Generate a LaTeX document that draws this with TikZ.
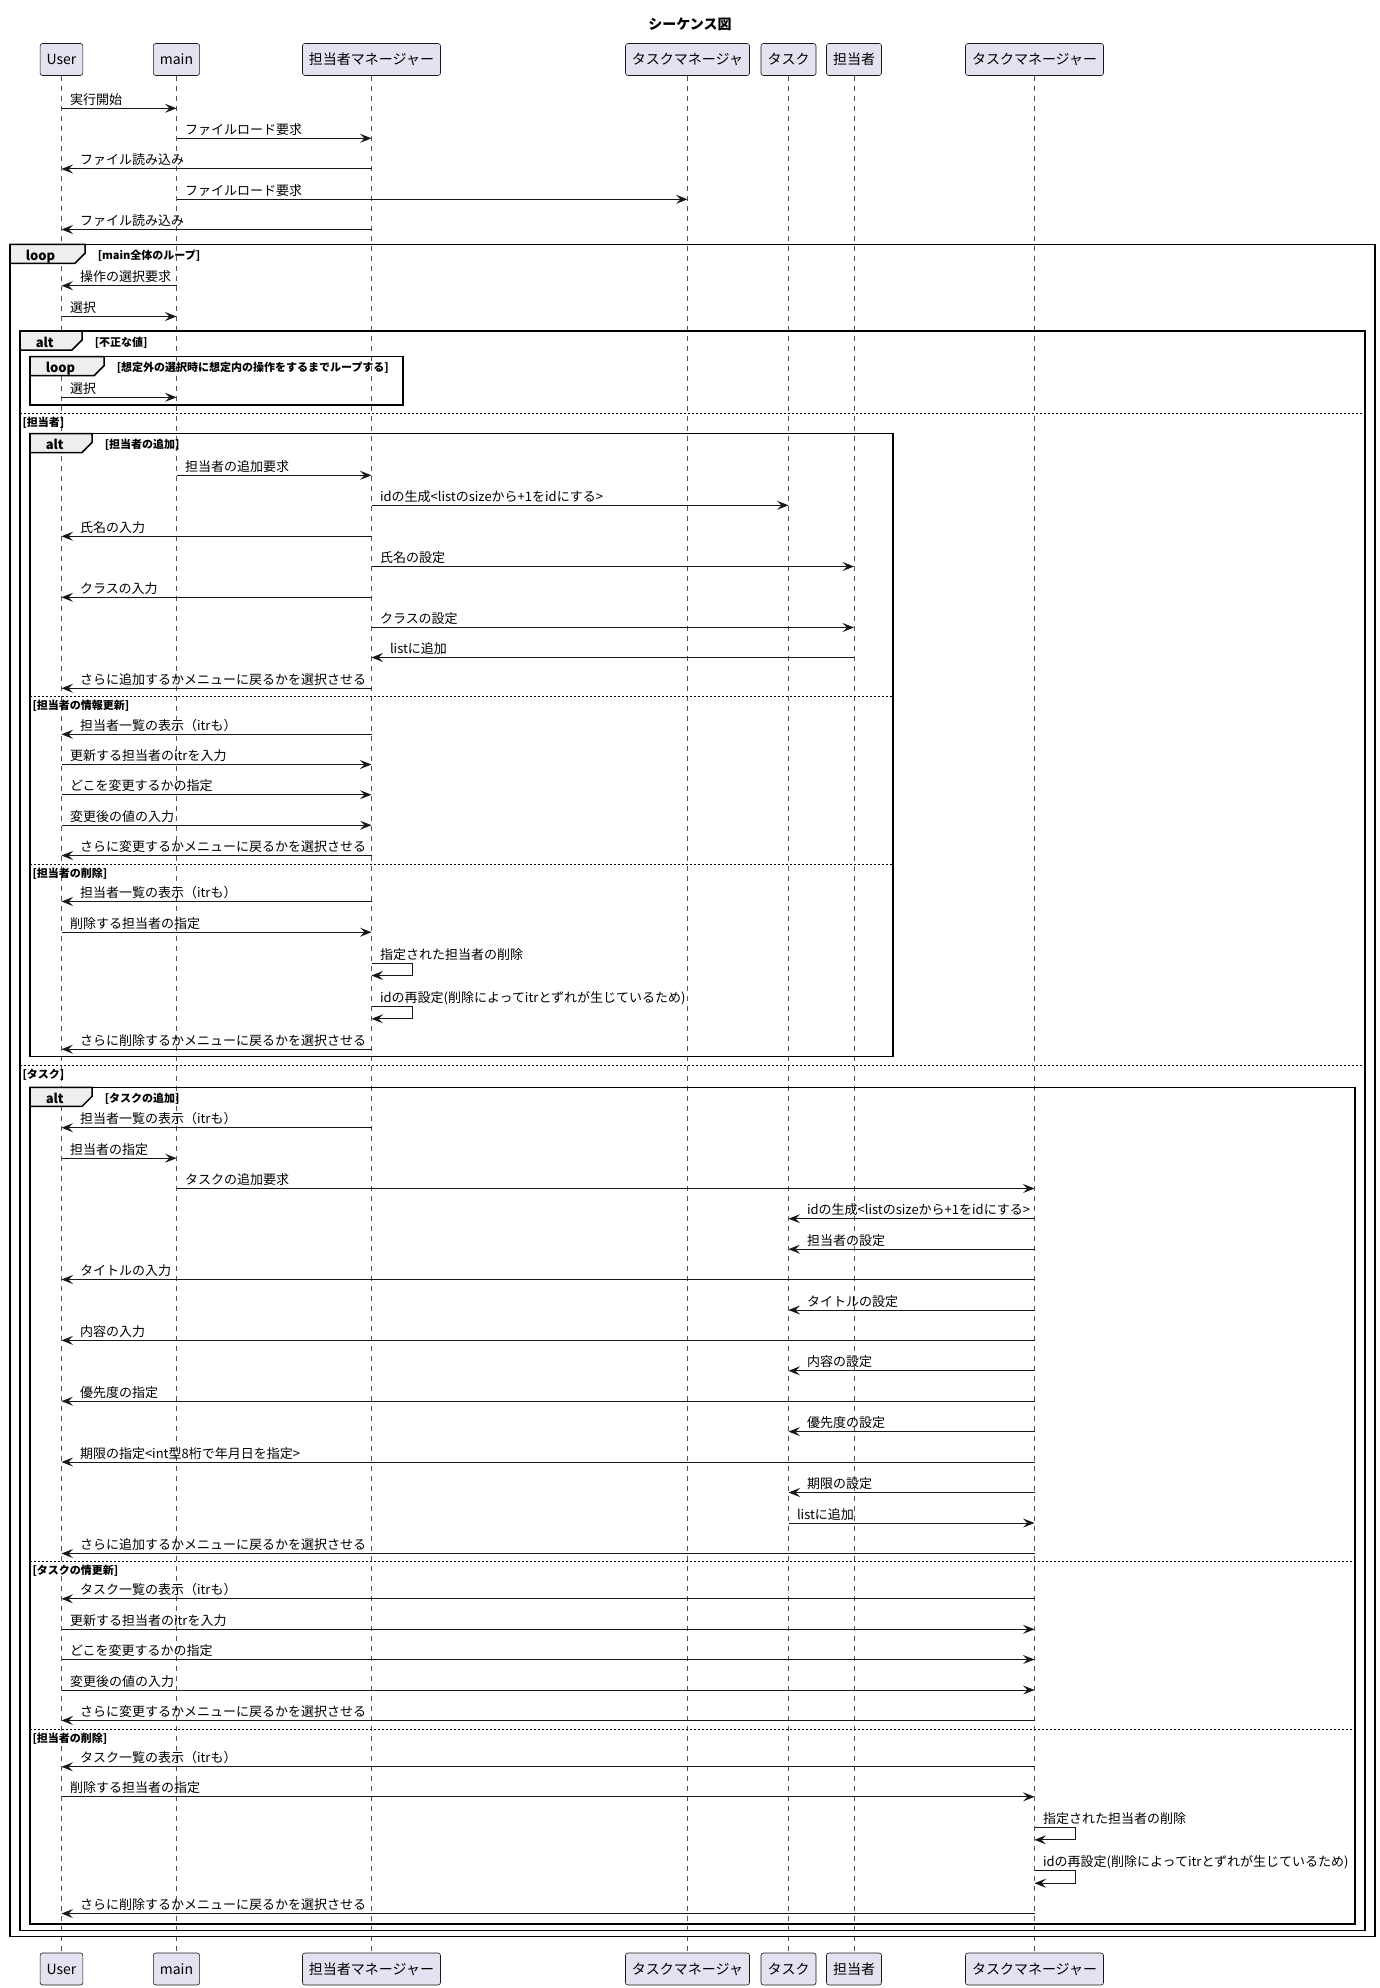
\documentclass[tikz,border=0pt]{standalone}
\usepackage{fontspec}
\setmainfont{Noto Sans CJK JP}
\usepackage{tikz}
\usetikzlibrary{calc,arrows.meta}
\definecolor{linec}{HTML}{181818}
\definecolor{partfill}{HTML}{E2E2F0}
\definecolor{tabfill}{HTML}{EEEEEE}
\tikzset{
	part/.style={draw=linec, fill=partfill, rounded corners=2.5pt, line width=0.6pt, minimum height=32pt, inner xsep=6.5pt, font=\fontsize{14}{16}\selectfont},
	life/.style={draw=linec!75, line width=0.5pt, dash pattern=on 5pt off 5pt},
	msg/.style={draw=linec, line width=1pt, -{Stealth[length=11.5pt,width=9pt,inset=4.5pt]}},
	msgtxt/.style={anchor=base west, inner sep=0pt, text=black, font=\fontsize{13}{15}\selectfont},
	grpbox/.style={draw=black, line width=1.5pt},
	grptab/.style={draw=black, fill=tabfill, line width=1.5pt},
	kindtxt/.style={anchor=base west, inner sep=0pt, font=\bfseries\fontsize{13}{15}\selectfont},
	guardtxt/.style={anchor=base west, inner sep=0pt, font=\bfseries\fontsize{11}{13}\selectfont},
	sepline/.style={draw=black, line width=1pt, dash pattern=on 2pt off 2pt}
}
\def\msgr(#1,#2,#3)#4{\draw[msg] (#1 |- 0,#3) node[msgtxt, xshift=8pt, yshift=4pt] {#4} -- (#2 |- 0,#3);}
\def\msgl(#1,#2,#3)#4{\draw[msg] (#1 |- 0,#3) -- (#2 |- 0,#3) node[msgtxt, xshift=18pt, yshift=4pt] {#4};}
\def\msgself(#1,#2)#3{\draw[msg] (#1 |- 0,#2) node[msgtxt, xshift=8pt, yshift=4pt] {#3} -- ++(41,0) -- ++(0,12.5) -- ++(-41,0);}
\def\grp(#1,#2,#3,#4)#5#6#7{%
	\draw[grpbox] (#1,#2) rectangle (#3,#4);
	\draw[grptab] (#1,#2) node[kindtxt, xshift=15pt, yshift=-16pt] {#5} -- ++(#6,0) node[guardtxt, xshift=12pt, yshift=-15pt] {#7} -- ++(0,9) -- ++(-10,10) -- ++(10-#6,0) -- cycle;}
\def\grpsep(#1,#2,#3)#4{\draw[sepline] (#1,#3) -- (#2,#3) node[pos=0, guardtxt, xshift=2pt, yshift=-13pt] {#4};}

\begin{document}
\begin{tikzpicture}[x=1pt, y=-1pt]
			%%%%% START %%%%%
			
			\fill[white] (0,0) rectangle (1380,1988);
			\useasboundingbox (0,0) rectangle (1380,1988);
			
			\node[font=\bfseries\fontsize{14}{16}\selectfont] (title) at (690,24) {シーケンス図};
			
			\node[part] (user) at (61.5,59.5) {User};
			\node[part] (mainp) at (176.5,59.5) {main};
			\node[part] (pmgr) at (371.5,59.5) {担当者マネージャー};
			\node[part] (tmgrA) at (687.5,59.5) {タスクマネージャ};
			\node[part] (task) at (788.5,59.5) {タスク};
			\node[part] (staff) at (854,59.5) {担当者};
			\node[part] (tmgr) at (1034.5,59.5) {タスクマネージャー};
			
			\node[part] (userB) at (61.5,1969) {User};
			\node[part] (mainB) at (176.5,1969) {main};
			\node[part] (pmgrB) at (371.5,1969) {担当者マネージャー};
			\node[part] (tmgrAB) at (687.5,1969) {タスクマネージャ};
			\node[part] (taskB) at (788.5,1969) {タスク};
			\node[part] (staffB) at (854,1969) {担当者};
			\node[part] (tmgrB) at (1034.5,1969) {タスクマネージャー};
			
			\draw[life] (user) -- (userB);
			\draw[life] (mainp) -- (mainB);
			\draw[life] (pmgr) -- (pmgrB);
			\draw[life] (tmgrA) -- (tmgrAB);
			\draw[life] (task) -- (taskB);
			\draw[life] (staff) -- (staffB);
			\draw[life] (tmgr) -- (tmgrB);
			
			% groups
			\grp(10,244.3,1375,1936.5){loop}{75}{[main全体のループ]}
			\grp(20,331,1365,1930.3){alt}{62}{[不正な値]}
			\grp(30,356.7,403,405){loop}{74}{[想定外の選択時に想定内の操作をするまでループする]}
			\grpsep(20,1365,413.3){[担当者]}
			\grp(30,433.5,893,1056.7){alt}{62}{[担当者の追加]}
			\grpsep(30,893,696.7){[担当者の情報更新]}
			\grpsep(30,893,864){[担当者の削除]}
			\grpsep(20,1365,1065.3){[タスク]}
			\grp(30,1087.3,1355,1924){alt}{62}{[タスクの追加]}
			\grpsep(30,1355,1561.5){[タスクの情更新]}
			\grpsep(30,1355,1729){[担当者の削除]}
			
			\msgr(user,mainp,108.3){実行開始}
			\msgr(mainp,pmgr,138.3){ファイルロード要求}
			\msgl(pmgr,user,169){ファイル読み込み}
			\msgr(mainp,tmgrA,199.3){ファイルロード要求}
			\msgl(pmgr,user,229.5){ファイル読み込み}
			
			\msgl(mainp,user,285.7){操作の選択要求}
			\msgr(user,mainp,316.5){選択}
			\msgr(user,mainp,397.3){選択}
			
			\msgr(mainp,pmgr,475.3){担当者の追加要求}
			\msgr(pmgr,task,505.3){idの生成<listのsizeから+1をidにする>}
			\msgl(pmgr,user,536.3){氏名の入力}
			\msgr(pmgr,staff,566.5){氏名の設定}
			\msgl(pmgr,user,597.3){クラスの入力}
			\msgr(pmgr,staff,627.5){クラスの設定}
			\msgl(staff,pmgr,657.5){listに追加}
			\msgl(pmgr,user,688.3){さらに追加するかメニューに戻るかを選択させる}
			
			\msgl(pmgr,user,734.3){担当者一覧の表示（itrも）}
			\msgr(user,pmgr,764.5){更新する担当者のitrを入力}
			\msgr(user,pmgr,794.7){どこを変更するかの指定}
			\msgr(user,pmgr,825.2){変更後の値の入力}
			\msgl(pmgr,user,855.5){さらに変更するかメニューに戻るかを選択させる}
			
			\msgl(pmgr,user,901.5){担当者一覧の表示（itrも）}
			\msgr(user,pmgr,932.2){削除する担当者の指定}
			\msgself(pmgr,963){指定された担当者の削除}
			\msgself(pmgr,1006.3){idの再設定(削除によってitrとずれが生じているため)}
			\msgl(pmgr,user,1049.2){さらに削除するかメニューに戻るかを選択させる}
			
			\msgl(pmgr,user,1127.7){担当者一覧の表示（itrも）}
			\msgr(user,mainp,1158.2){担当者の指定}
			\msgr(mainp,tmgr,1188.5){タスクの追加要求}
			\msgl(tmgr,task,1218.7){idの生成<listのsizeから+1をidにする>}
			\msgl(tmgr,task,1249.2){担当者の設定}
			\msgl(tmgr,user,1279.5){タイトルの入力}
			\msgl(tmgr,task,1310){タイトルの設定}
			\msgl(tmgr,user,1340.4){内容の入力}
			\msgl(tmgr,task,1370.8){内容の設定}
			\msgl(tmgr,user,1401.2){優先度の指定}
			\msgl(tmgr,task,1431.6){優先度の設定}
			\msgl(tmgr,user,1462){期限の指定<int型8桁で年月日を指定>}
			\msgl(tmgr,task,1492.5){期限の設定}
			\msgr(task,tmgr,1523){listに追加}
			\msgl(tmgr,user,1553.5){さらに追加するかメニューに戻るかを選択させる}
			
			\msgl(tmgr,user,1598.8){タスク一覧の表示（itrも）}
			\msgr(user,tmgr,1629.3){更新する担当者のitrを入力}
			\msgr(user,tmgr,1659.5){どこを変更するかの指定}
			\msgr(user,tmgr,1690){変更後の値の入力}
			\msgl(tmgr,user,1720.5){さらに変更するかメニューに戻るかを選択させる}
			
			\msgl(tmgr,user,1766.8){タスク一覧の表示（itrも）}
			\msgr(user,tmgr,1796.8){削除する担当者の指定}
			\msgself(tmgr,1827.3){指定された担当者の削除}
			\msgself(tmgr,1870.7){idの再設定(削除によってitrとずれが生じているため)}
			\msgl(tmgr,user,1913.5){さらに削除するかメニューに戻るかを選択させる}
			
			%%%%% END %%%%%
\end{tikzpicture}
\end{document}
